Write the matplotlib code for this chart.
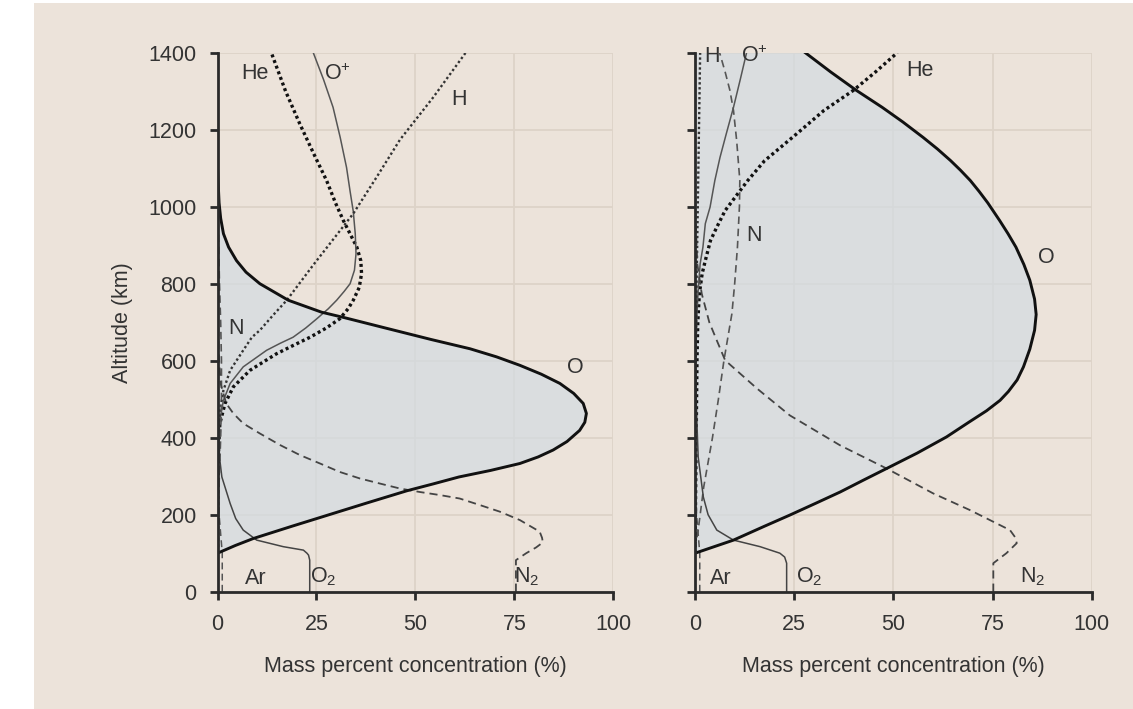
import numpy as np
import matplotlib.pyplot as plt
from matplotlib.patches import Rectangle

plt.rcParams['font.family'] = ['Liberation Sans', 'DejaVu Sans']
plt.rcParams['mathtext.fontset'] = 'custom'
plt.rcParams['mathtext.rm'] = 'Liberation Sans'

# ---- left panel: mass percent vs altitude (km) ----
O_l_alt = [100, 120, 138, 170, 200, 230, 262, 280, 298, 315, 333, 350, 368, 390, 419, 440, 463,
           489, 515, 541, 565, 588, 610, 631, 655, 686, 712, 726, 757, 800, 830, 860, 895, 930,
           970, 1010, 1100]
O_l = [0, 4.5, 9.0, 18.8, 28.2, 37.6, 47.8, 54.5, 61.0, 69.0, 76.4, 81.0, 84.8, 88.3, 91.5, 92.8,
       93.2, 92.4, 90.0, 86.5, 81.8, 76.4, 70.5, 63.8, 54.0, 42.0, 32.0, 26.3, 17.9, 10.7, 7.2,
       4.8, 2.8, 1.5, 0.8, 0.4, 0]

He_l_alt = [100, 200, 300, 380, 437, 489, 532, 575, 618, 640, 661, 685, 709, 735, 757, 790, 826,
            860, 895, 964, 1010, 1067, 1140, 1215, 1300, 1400]
He_l = [0, 0.05, 0.15, 0.3, 0.6, 1.9, 4.0, 8.2, 14.9, 19.2, 23.4, 27.5, 30.9, 33.0, 34.3, 35.8,
        36.4, 36.2, 35.2, 31.8, 29.8, 27.6, 24.2, 20.8, 17.2, 13.6]

Op_l_alt = [300, 380, 445, 497, 541, 584, 627, 645, 661, 685, 709, 735, 757, 780, 800, 835, 878,
            930, 988, 1040, 1102, 1180, 1258, 1330, 1400]
Op_l = [0, 0.2, 0.6, 1.5, 3.2, 6.5, 12.4, 15.8, 19.1, 22.3, 25.1, 28.0, 30.1, 32.0, 33.5, 34.6,
        35.0, 34.8, 34.3, 33.5, 32.6, 31.0, 29.2, 26.8, 24.2]

H_l_alt = [300, 400, 471, 523, 575, 627, 661, 679, 720, 757, 850, 982, 1080, 1174, 1284, 1400]
H_l = [0, 0.2, 0.6, 1.5, 3.2, 6.5, 8.7, 10.7, 14.2, 17.5, 24.3, 34.3, 40.4, 46.1, 54.5, 62.7]

N_l_alt = [150, 250, 400, 500, 600, 700, 800, 900, 1000]
N_l = [0, 0.3, 0.8, 1.0, 1.0, 0.8, 0.5, 0.3, 0.1]

N2_l_alt = [0, 82, 100, 115, 128, 140, 156, 186, 208, 225, 242, 251, 259, 268, 281, 294, 311, 333,
            355, 381, 411, 437, 463, 489, 540, 620, 720, 820]
N2_l = [75.4, 75.4, 78.0, 80.5, 82.2, 82.0, 81.4, 76.4, 71.3, 66.3, 61.2, 56.2, 51.1, 46.1, 41.0,
        36.0, 30.9, 25.9, 20.8, 15.8, 10.7, 6.5, 4.0, 2.2, 0.8, 0.3, 0.1, 0]

O2_l_alt = [0, 82, 95, 100, 108, 117, 134, 160, 190, 229, 298, 350, 450, 600]
O2_l = [23.3, 23.3, 23.0, 22.6, 21.7, 16.6, 9.9, 6.5, 4.6, 3.2, 1.1, 0.5, 0.2, 0]

Ar_l_alt = [0, 100, 150, 200, 300]
Ar_l = [1.2, 1.2, 0.8, 0.4, 0.1]

# ---- right panel ----
O_r_alt = [100, 134, 170, 199, 230, 259, 290, 320, 360, 402, 440, 470, 497, 520, 550, 584, 630,
           679, 720, 760, 809, 850, 895, 930, 964, 1010, 1040, 1068, 1095, 1120, 1150, 1180,
           1220, 1258, 1302, 1350, 1400]
O_r = [0, 9.7, 17.5, 23.9, 30.5, 36.6, 42.5, 48.3, 56.0, 63.4, 69.0, 73.5, 76.9, 79.0, 81.2,
       82.8, 84.4, 85.6, 86.0, 85.6, 84.4, 82.9, 80.9, 78.9, 76.8, 73.8, 71.6, 69.4, 66.9, 64.4,
       61.1, 57.5, 52.4, 47.2, 40.7, 34.2, 27.8]

He_r_alt = [100, 200, 400, 600, 700, 774, 826, 860, 912, 947, 990, 1034, 1068, 1119, 1189, 1250,
            1302, 1350, 1400]
He_r = [0, 0.1, 0.3, 0.5, 0.7, 1.1, 1.8, 2.6, 3.9, 5.5, 7.6, 10.8, 13.3, 17.5, 25.6, 32.5, 39.9,
        45.5, 51.0]

Op_r_alt = [500, 600, 700, 783, 852, 895, 956, 999, 1068, 1128, 1190, 1258, 1330, 1400]
Op_r = [0, 0.2, 0.4, 0.8, 1.3, 2.0, 2.6, 3.8, 5.0, 6.3, 7.9, 9.7, 11.4, 13.0]

H_r_alt = [300, 400, 600, 800, 1000, 1200, 1400]
H_r = [0, 0.05, 0.2, 0.4, 0.7, 1.0, 1.3]

N_r_alt = [110, 160, 272, 400, 500, 601, 722, 800, 895, 1000, 1068, 1172, 1250, 1302, 1350, 1400]
N_r = [0, 0.8, 2.2, 4.4, 5.9, 7.3, 9.3, 10.0, 10.7, 11.2, 11.3, 10.5, 9.7, 8.8, 7.6, 6.2]

N2_r_alt = [0, 74, 100, 126, 140, 160, 212, 255, 320, 380, 458, 528, 601, 650, 700, 774, 850, 950,
            1100]
N2_r = [75.2, 75.2, 78.5, 81.1, 80.8, 79.4, 69.3, 60.1, 48.3, 36.6, 23.9, 15.6, 7.6, 5.6, 3.6, 1.7,
        0.6, 0.2, 0]

O2_r_alt = [0, 74, 90, 100, 117, 134, 160, 200, 246, 350, 463, 600]
O2_r = [23.1, 23.1, 22.6, 21.4, 16.4, 9.7, 5.5, 3.3, 2.1, 0.8, 0.4, 0]

Ar_r_alt = [0, 100, 150, 200, 300]
Ar_r = [1.2, 1.2, 0.8, 0.4, 0.1]

x_ticks = [0, 25, 50, 75, 100]
y_ticks = [0, 200, 400, 600, 800, 1000, 1200, 1400]

bg = '#ece3da'
ink = '#2a2a2a'
fs = 15.5

fig = plt.figure(figsize=(11.33, 7.09), dpi=100, facecolor='white')
fig.patches.append(Rectangle((34 / 1133, 0), 1, 1 - 3 / 709, transform=fig.transFigure,
                             facecolor=bg, edgecolor='none', zorder=-10))

ax_l = fig.add_axes([217.5 / 1133, 1 - 591.7 / 709, (613.3 - 217.5) / 1133, (591.7 - 52.7) / 709])
ax_r = fig.add_axes([695 / 1133, 1 - 591.7 / 709, (1091.7 - 695) / 1133, (591.7 - 52.7) / 709])

panels = [
    (ax_l, dict(O=(O_l, O_l_alt), He=(He_l, He_l_alt), Op=(Op_l, Op_l_alt), H=(H_l, H_l_alt),
                N=(N_l, N_l_alt), N2=(N2_l, N2_l_alt), O2=(O2_l, O2_l_alt), Ar=(Ar_l, Ar_l_alt))),
    (ax_r, dict(O=(O_r, O_r_alt), He=(He_r, He_r_alt), Op=(Op_r, Op_r_alt), H=(H_r, H_r_alt),
                N=(N_r, N_r_alt), N2=(N2_r, N2_r_alt), O2=(O2_r, O2_r_alt), Ar=(Ar_r, Ar_r_alt))),
]

dash = (0, (4.5, 2.8))
for ax, d in panels:
    ax.set_facecolor('none')
    ax.set_xlim(0, 100)
    ax.set_ylim(0, 1400)
    ax.set_xticks(x_ticks)
    ax.set_yticks(y_ticks)
    ax.grid(True, color='#ddd3c8', lw=1.3)
    ax.set_axisbelow(True)
    for s in ['top', 'right']:
        ax.spines[s].set_visible(False)
    for s in ['left', 'bottom']:
        ax.spines[s].set_color(ink)
        ax.spines[s].set_linewidth(2.0)
        ax.spines[s].set_zorder(6)
    ax.tick_params(direction='out', length=6, width=2.0, color=ink, labelsize=fs,
                   labelcolor='#333333')
    ax.tick_params(axis='y', pad=9)
    ax.tick_params(axis='x', pad=10)

    ox, oy = d['O']
    ax.fill_betweenx(oy, 0, ox, color='#d3dbe2', alpha=0.72, lw=0, zorder=1)
    ax.plot(ox, oy, color='#111111', lw=2.1, zorder=5)
    hx, hy = d['He']
    ax.plot(hx, hy, color='#111111', lw=2.4, ls=(0, (0.9, 0.9)), zorder=4)
    px, py = d['Op']
    ax.plot(px, py, color='#555555', lw=1.1, zorder=4)
    hx, hy = d['H']
    ax.plot(hx, hy, color='#333333', lw=1.7, ls=(0, (1, 1.1)), zorder=4)
    nx, ny = d['N']
    ax.plot(nx, ny, color='#555555', lw=1.2, ls=dash, zorder=4)
    nx, ny = d['N2']
    ax.plot(nx, ny, color='#444444', lw=1.3, ls=dash, zorder=4)
    o2x, o2y = d['O2']
    ax.plot(o2x, o2y, color='#444444', lw=1.1, zorder=4)
    ax.plot(*d['Ar'], color='#555555', lw=1.1, ls=dash, zorder=4)
    ax.set_xlabel('Mass percent concentration (%)', fontsize=fs, color='#333333', labelpad=15.5)

ax_r.tick_params(axis='y', labelleft=False)
ax_l.set_ylabel('Altitude (km)', fontsize=fs, color='#333333', labelpad=11)

tk = dict(fontsize=fs, color='#333333', ha='center', va='center', zorder=7)
# left panel labels
ax_l.text(9.5, 1345, 'He', **tk)
ax_l.text(30.4, 1345, r'O$^{\mathrm{+}}$', **tk)
ax_l.text(61, 1278, 'H', **tk)
ax_l.text(4.6, 684, 'N', **tk)
ax_l.text(90.5, 583, 'O', **tk)
ax_l.text(9.7, 35, 'Ar', **tk)
ax_l.text(26.8, 38, r'O$_{\mathrm{2}}$', **tk)
ax_l.text(78.2, 38, r'N$_{\mathrm{2}}$', **tk)
# right panel labels
ax_r.text(4.3, 1390, 'H', **tk)
ax_r.text(15.0, 1390, r'O$^{\mathrm{+}}$', **tk)
ax_r.text(56.7, 1353, 'He', **tk)
ax_r.text(14.9, 925, 'N', **tk)
ax_r.text(88.5, 868, 'O', **tk)
ax_r.text(6.6, 35, 'Ar', **tk)
ax_r.text(28.8, 38, r'O$_{\mathrm{2}}$', **tk)
ax_r.text(85.2, 38, r'N$_{\mathrm{2}}$', **tk)

fig.savefig('out.png', dpi=100, facecolor='white')
